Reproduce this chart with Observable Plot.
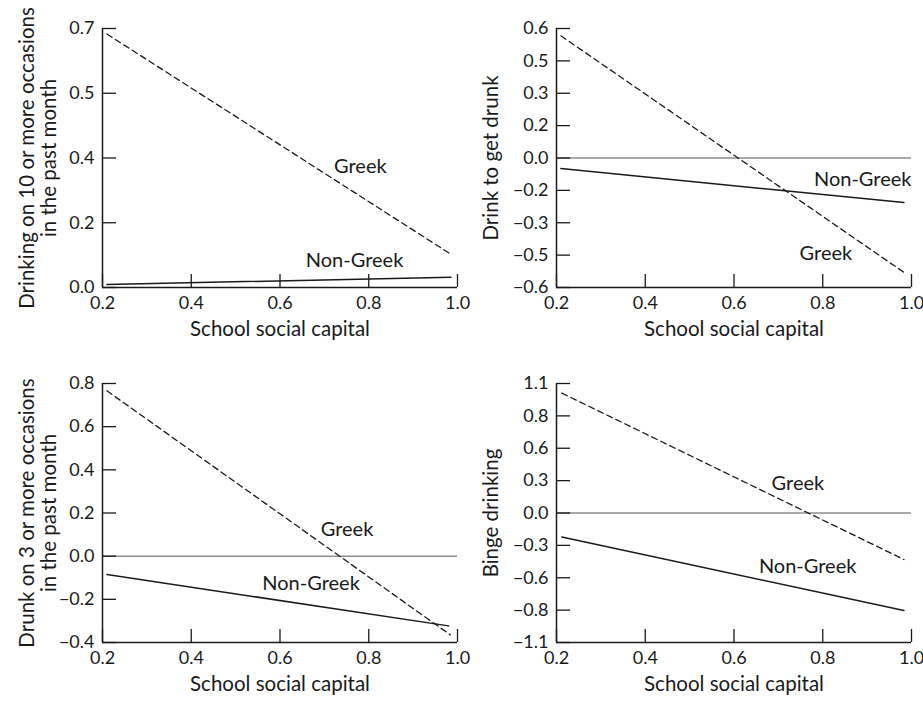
<!DOCTYPE html>
<html><head><meta charset="utf-8">
<script src="https://cdn.jsdelivr.net/npm/d3@7"></script>
<script src="https://cdn.jsdelivr.net/npm/@observablehq/plot@0.6"></script>
<style>
body{margin:0;background:#fff;}
#wrap{position:relative;width:923px;height:702px;overflow:hidden;}
.panel{position:absolute;}
.panel svg{overflow:visible;}
</style></head><body><div id="wrap"></div>
<script>
// shared x axis
const xDomain = [0.2, 1.0];
const xTicks = [0.2, 0.4, 0.6, 0.8, 1.0];
const xTickLabels = ["0.2", "0.4", "0.6", "0.8", "1.0"];
const xTitle = "School social capital";
const seriesNames = ["Greek", "Non-Greek"];

// Panel 1 (top left)
const p1Title = "Drinking on 10 or more occasions\nin the past month";
const p1YDomain = [0, 0.7];
const p1YTicks = [0, 0.175, 0.35, 0.525, 0.7];
const p1YLabels = ["0.0", "0.2", "0.4", "0.5", "0.7"];
const p1X = [0.21, 0.985];
const p1Greek = [0.685, 0.09];
const p1NonGreek = [0.008, 0.028];
const p1LabelX = [0.781, 0.768];
const p1LabelY = [0.327, 0.072];

// Panel 2 (top right)
const p2Title = "Drink to get drunk";
const p2YDomain = [-0.6, 0.6];
const p2YTicks = [-0.6, -0.45, -0.3, -0.15, 0, 0.15, 0.3, 0.45, 0.6];
const p2YLabels = ["\u22120.6", "\u22120.5", "\u22120.3", "\u22120.2", "0.0", "0.2", "0.3", "0.5", "0.6"];
const p2X = [0.21, 0.983];
const p2Greek = [0.566, -0.53];
const p2NonGreek = [-0.049, -0.206];
const p2LabelX = [0.807, 0.890];
const p2LabelY = [-0.441, -0.102];

// Panel 3 (bottom left)
const p3Title = "Drunk on 3 or more occasions\nin the past month";
const p3YDomain = [-0.4, 0.8];
const p3YTicks = [-0.4, -0.2, 0, 0.2, 0.4, 0.6, 0.8];
const p3YLabels = ["\u22120.4", "\u22120.2", "0.0", "0.2", "0.4", "0.6", "0.8"];
const p3X = [0.21, 0.984];
const p3XNon = [0.21, 0.98];
const p3Greek = [0.766, -0.365];
const p3NonGreek = [-0.085, -0.323];
const p3LabelX = [0.751, 0.670];
const p3LabelY = [0.123, -0.126];

// Panel 4 (bottom right)
const p4Title = "Binge drinking";
const p4YDomain = [-1.1, 1.1];
const p4YTicks = [-1.1, -0.825, -0.55, -0.275, 0, 0.275, 0.55, 0.825, 1.1];
const p4YLabels = ["\u22121.1", "\u22120.8", "\u22120.6", "\u22120.3", "0.0", "0.3", "0.6", "0.8", "1.1"];
const p4X = [0.212, 0.983];
const p4Greek = [1.018, -0.395];
const p4NonGreek = [-0.203, -0.829];
const p4LabelX = [0.744, 0.766];
const p4LabelY = [0.249, -0.457];

const FONT = "Lato, 'Open Sans', sans-serif";
const INK = "#1a1a1a";

function makePanel(cfg) {
  const plotW = 355;
  const greek = cfg.x.map((x, i) => ({x, y: cfg.greek[i]}));
  const nonGreek = (cfg.xNon || cfg.x).map((x, i) => ({x, y: cfg.nonGreek[i]}));
  const labels = seriesNames.map((name, i) => ({name, x: cfg.labelX[i], y: cfg.labelY[i]}));
  const yLab = new Map(cfg.yTicks.map((t, i) => [t, cfg.yLabels[i]]));
  const xLab = new Map(xTicks.map((t, i) => [t, xTickLabels[i]]));
  const marks = [];
  if (cfg.zero) marks.push(Plot.ruleY([0], {stroke: "#555", strokeWidth: 1}));
  marks.push(
    Plot.ruleX([xDomain[0]], {stroke: INK, strokeWidth: 1.5}),
    Plot.ruleY([cfg.yDomain[0]], {stroke: INK, strokeWidth: 1.5}),
    Plot.axisY({ticks: cfg.yTicks, tickFormat: d => yLab.get(d), label: null, tickSize: -14, tickPadding: 22, strokeWidth: 1.3, fontSize: 18}),
    Plot.axisX({ticks: xTicks, tickFormat: d => xLab.get(d), label: null, tickSize: -13, tickPadding: 22, strokeWidth: 1.3, fontSize: 18}),
    Plot.line(greek, {x: "x", y: "y", stroke: INK, strokeWidth: 1.3, strokeDasharray: "6,4"}),
    Plot.line(nonGreek, {x: "x", y: "y", stroke: INK, strokeWidth: 1.5}),
    Plot.text(labels, {x: "x", y: "y", text: "name", fontSize: 20, fill: INK}),
    Plot.text([cfg.title], {frameAnchor: "left", textAnchor: "middle", lineAnchor: "middle", rotate: -90, dx: cfg.titleDx, text: d => d, fontSize: 20.5, lineHeight: 1.07, fill: INK}),
    Plot.text([xTitle], {frameAnchor: "bottom", textAnchor: "middle", lineAnchor: "middle", dy: 42, text: d => d, fontSize: 20.5, fill: INK})
  );
  const chart = Plot.plot({
    width: cfg.marginLeft + plotW + cfg.marginRight,
    height: 345,
    marginLeft: cfg.marginLeft,
    marginRight: cfg.marginRight,
    marginTop: 28,
    marginBottom: 58,
    x: {domain: xDomain},
    y: {domain: cfg.yDomain},
    style: {fontFamily: FONT, fontSize: "18px", color: INK, background: "transparent", overflow: "visible"},
    marks
  });
  const div = document.createElement("div");
  div.className = "panel";
  div.style.left = cfg.left + "px";
  div.style.top = cfg.top + "px";
  div.appendChild(chart);
  document.getElementById("wrap").appendChild(div);
}

makePanel({left: 0, top: 0, marginLeft: 102, marginRight: 4, titleDx: -65, zero: false,
  title: p1Title, yDomain: p1YDomain, yTicks: p1YTicks, yLabels: p1YLabels,
  x: p1X, greek: p1Greek, nonGreek: p1NonGreek, labelX: p1LabelX, labelY: p1LabelY});
makePanel({left: 460, top: 0, marginLeft: 96, marginRight: 12, titleDx: -66, zero: true,
  title: p2Title, yDomain: p2YDomain, yTicks: p2YTicks, yLabels: p2YLabels,
  x: p2X, greek: p2Greek, nonGreek: p2NonGreek, labelX: p2LabelX, labelY: p2LabelY});
makePanel({left: 0, top: 355, marginLeft: 102, marginRight: 4, titleDx: -65, zero: true,
  title: p3Title, yDomain: p3YDomain, yTicks: p3YTicks, yLabels: p3YLabels,
  x: p3X, xNon: p3XNon, greek: p3Greek, nonGreek: p3NonGreek, labelX: p3LabelX, labelY: p3LabelY});
makePanel({left: 460, top: 355, marginLeft: 96, marginRight: 12, titleDx: -66, zero: true,
  title: p4Title, yDomain: p4YDomain, yTicks: p4YTicks, yLabels: p4YLabels,
  x: p4X, greek: p4Greek, nonGreek: p4NonGreek, labelX: p4LabelX, labelY: p4LabelY});
</script>
</body></html>
